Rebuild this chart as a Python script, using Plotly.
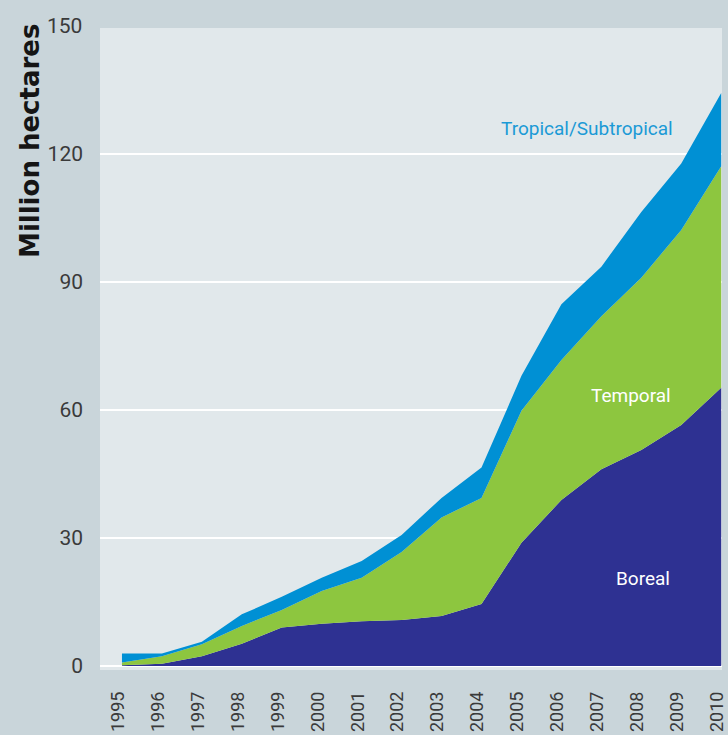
import plotly.graph_objects as go

years = list(range(1995, 2011))
tick_years = [str(y) for y in years]

# stacked layer values (million hectares)
boreal = [0.2, 0.5, 2.3, 5.2, 9.0, 9.9, 10.5, 10.8, 11.7, 14.5, 28.9, 38.9, 46.1, 50.6, 56.5, 65.2]
temporal = [0.6, 1.8, 2.8, 4.2, 4.1, 7.7, 10.2, 15.9, 23.1, 24.9, 30.9, 32.8, 35.9, 40.4, 45.7, 51.9]
tropical = [2.1, 0.6, 0.6, 2.7, 3.1, 3.1, 3.9, 4.0, 4.6, 7.1, 8.2, 13.1, 11.6, 15.4, 15.6, 17.2]

y_ticks = [0, 30, 60, 90, 120]
Y_MIN, Y_MAX = -0.94, 149.53

FONT = "Liberation Sans Narrow, Roboto, Arial Narrow, sans-serif"
TXT = "#3a3a3a"

fig = go.Figure()
for name, vals, col in [("Boreal", boreal, "#2e3192"),
                        ("Temporal", temporal, "#8dc63f"),
                        ("Tropical/Subtropical", tropical, "#0090d4")]:
    fig.add_trace(go.Scatter(x=years, y=vals, name=name, stackgroup="one",
                             mode="lines", line=dict(width=0, color=col),
                             fillcolor=col, hoverinfo="x+y+name"))

fig.add_annotation(x=2006.65, y=126, text="Tropical/Subtropical", showarrow=False,
                   font=dict(family=FONT, size=19, color="#1b9ad6"))
fig.add_annotation(x=2007.75, y=63.3, text="Temporal", showarrow=False,
                   font=dict(family=FONT, size=19, color="white"))
fig.add_annotation(x=2008.05, y=20.4, text="Boreal", showarrow=False,
                   font=dict(family=FONT, size=19, color="white"))
# top tick label (sits just above plot area)
fig.add_annotation(xref="paper", yref="paper", x=0, y=(150 - Y_MIN) / (Y_MAX - Y_MIN),
                   text="150", showarrow=False, xanchor="right", yanchor="middle",
                   xshift=-16, font=dict(family=FONT, size=21, color=TXT))
# y-axis title
fig.add_annotation(xref="paper", yref="paper", x=0, y=0.824, xshift=-70,
                   xanchor="center", yanchor="middle",
                   text="<b>Million hectares</b>", textangle=-90, showarrow=False,
                   font=dict(family="DejaVu Sans, sans-serif", size=26, color="#151515"))

fig.update_layout(
    width=728, height=735,
    margin=dict(l=100, r=6, t=28, b=65),
    paper_bgcolor="#c9d5da", plot_bgcolor="#e1e8eb",
    showlegend=False,
    xaxis=dict(range=[1994.45, 2010.02], tickmode="array", tickvals=years,
               ticktext=tick_years, tickangle=-90, showgrid=False, zeroline=False,
               ticklabelstandoff=17, ticklabelshift=-4, ticklabeloverflow="allow",
               automargin=False,
               tickfont=dict(family=FONT, size=18, color=TXT), fixedrange=True),
    yaxis=dict(range=[Y_MIN, Y_MAX], tickmode="array", tickvals=y_ticks,
               showgrid=True, gridcolor="white", gridwidth=2, zeroline=False,
               ticklabelstandoff=16, automargin=False,
               tickfont=dict(family=FONT, size=21, color=TXT), fixedrange=True),
)

fig.write_html("out.html", config={"displayModeBar": False},
               post_script="document.body.style.margin='0';document.body.style.padding='0';")
